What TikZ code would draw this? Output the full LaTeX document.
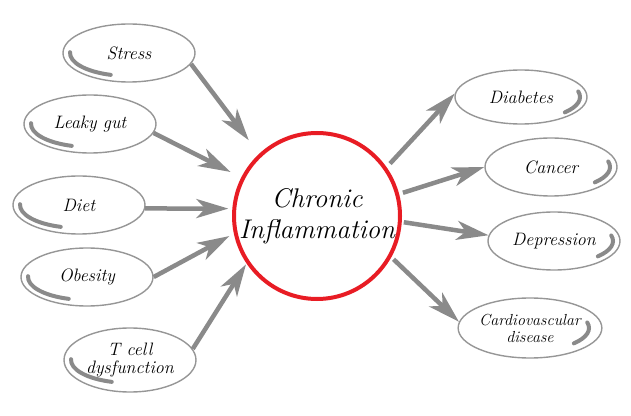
\documentclass[tikz,border=0pt]{standalone}
\usepackage{tikz}
\usetikzlibrary{shapes,arrows.meta,calc,positioning}
\definecolor{linegray}{RGB}{150,150,150}
\definecolor{arrowgray}{RGB}{138,138,138}
\definecolor{ringred}{RGB}{232,28,36}
\tikzset{
    x=1pt,y=1pt,
    swoosh/.style={draw=arrowgray,line width=4pt,line cap=round},
    bubble/.style={ellipse, draw=linegray, line width=1.4pt, inner sep=0pt,
        minimum width=132pt, minimum height=58pt, align=center,
        font=\fontsize{18}{18}\selectfont\itshape},
    cause/.style={bubble, path picture={
        \draw[swoosh] (path picture bounding box.center) ++(178:59pt and 23pt)
            arc[start angle=178,end angle=252,x radius=59pt,y radius=23pt];}},
    effect/.style={bubble, path picture={
        \draw[swoosh] (path picture bounding box.center) ++(14:59pt and 23pt)
            arc[start angle=14,end angle=-42,x radius=59pt,y radius=23pt];}},
    ring/.style={circle, draw=ringred, line width=4pt, minimum size=166pt,
        inner sep=0pt, align=center, font=\fontsize{27}{31}\selectfont\itshape},
    link/.style={draw=arrowgray, line width=4.5pt,
        -{Stealth[length=32pt,width=19pt,inset=9pt]}}
}
\begin{document}
\begin{tikzpicture}
    \useasboundingbox (0,0) rectangle (631,415);
    \node[ring] (c) at (317,199) {Chronic\\Inflammation};

    \node[cause] (1) at (129,362) {Stress};
    \node[cause] (2) at (90,291) {Leaky gut};
    \node[cause] (3) at (79,210) {Diet};
    \node[cause] (4) at (87,138) {Obesity};
    \node[cause,minimum height=64pt] (5) at (130,55) {T cell\\dysfunction};

    \node[effect,minimum height=54pt] (6) at (521,318) {Diabetes};
    \node[effect] (7) at (551,248) {Cancer};
    \node[effect] (8) at (554,174) {Depression};
    \node[effect,minimum width=135pt,minimum height=60pt,
        font=\fontsize{16}{17}\selectfont\itshape] (9) at (530,87) {Cardiovascular\\disease};

    \path (1.-10) edge[link,shorten >=17pt] (c.133);
    \path (2.-8) edge[link,shorten >=12pt] (c.153);
    \path (3.-3) edge[link,shorten >=4pt] (c.175);
    \path (4.0) edge[link,shorten >=5pt] (c.192);
    \path (5.10) edge[link,shorten >=1pt] (c.214);

    \path (c.35) edge[link,shorten <=5pt] (6.177);
    \path (c.15) edge[link,shorten <=4pt] (7.180);
    \path (c.-4) edge[link,shorten <=2pt] (8.175);
    \path (c.-29) edge[link,shorten <=3pt] (9.175);
\end{tikzpicture}
\end{document}
